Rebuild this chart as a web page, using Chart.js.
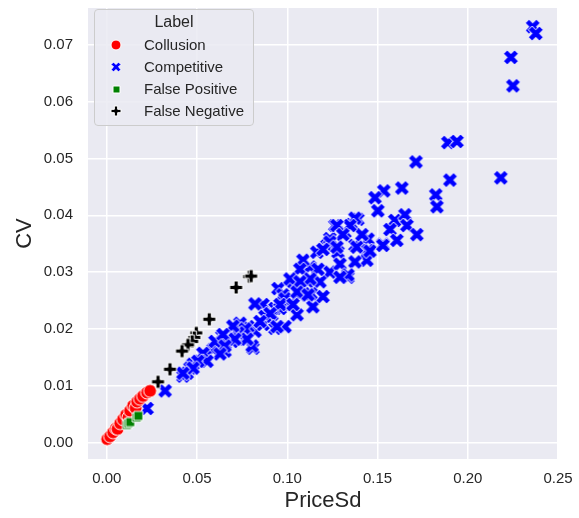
<!DOCTYPE html>
<html>
<head>
<meta charset="utf-8">
<script src="https://cdn.jsdelivr.net/npm/chart.js@4.4.0/dist/chart.umd.min.js"></script>
<style>
  body { margin: 0; background: #fff; }
  #wrap { position: relative; width: 579px; height: 518px; }
  #legend {
    position: absolute; left: 94px; top: 9px; width: 158px; height: 115px;
    background: rgba(234,234,242,0.85); border: 1px solid #cccccc; border-radius: 4px;
    font-family: "Liberation Sans", Arial, sans-serif; color: #262626;
  }
  #legend .title { position: absolute; left: 0; width: 100%; top: 2px; text-align: center; font-size: 16px; line-height: 20px; }
  #legend .row { position: absolute; left: 0; height: 20px; font-size: 15px; line-height: 20px; }
  #legend .row canvas { position: absolute; left: 14px; top: 1px; }
  #legend .row span { position: absolute; left: 49px; white-space: nowrap; }
</style>
</head>
<body>
<div id="wrap">
  <canvas id="chart" width="579" height="518"></canvas>
  <div id="legend"></div>
</div>
<script>
// series names
const labels = ['Collusion', 'Competitive', 'False Positive', 'False Negative'];

const collusionPriceSd = [0.0002, 0.0018, 0.0035, 0.0051, 0.0060, 0.0074, 0.0090, 0.0107, 0.0120, 0.0129, 0.0146, 0.0160, 0.0168, 0.0184, 0.0201, 0.0223, 0.0240];
const collusionCV      = [0.0006, 0.0011, 0.0018, 0.0025, 0.0024, 0.0034, 0.0041, 0.0049, 0.0044, 0.0056, 0.0065, 0.0061, 0.0072, 0.0077, 0.0082, 0.0088, 0.0091];

const competitivePriceSd = [0.2360, 0.2377, 0.2239, 0.2250, 0.2183, 0.1890, 0.1940, 0.1901, 0.1823, 0.1829, 0.1713, 0.1635, 0.1535, 0.1486, 0.1502,
  0.1391, 0.1358, 0.1596, 0.1652, 0.1663, 0.1569, 0.1718, 0.1607, 0.1447, 0.1375, 0.1530, 0.1264, 0.1319, 0.1220, 0.1281,
  0.1386, 0.1447, 0.1441, 0.1375, 0.1126, 0.1236, 0.1336, 0.1087, 0.1032, 0.1115, 0.1181, 0.0949, 0.1070, 0.1142, 0.1015,
  0.0932, 0.1054, 0.1198, 0.0865, 0.0821, 0.0960, 0.0915, 0.0987, 0.0932, 0.0821, 0.0865, 0.0721, 0.0766, 0.0810, 0.0694,
  0.0638, 0.0589, 0.0655, 0.0517, 0.0478, 0.0422, 0.0461, 0.0445, 0.0323, 0.0223, 0.1414, 0.1292, 0.0976, 0.1131, 0.0877,
  0.0782, 0.0738, 0.0600, 0.0544, 0.1236, 0.1164, 0.1070, 0.0987,
  0.1015, 0.0960, 0.0905, 0.0849, 0.0943, 0.1032, 0.0766, 0.0727, 0.0699, 0.0805, 0.0777, 0.0710, 0.0644, 0.0655, 0.0627,
  0.0533, 0.0555, 0.0505, 0.0478, 0.0422, 0.1375, 0.1347, 0.1275, 0.1308, 0.1236, 0.1275, 0.1198, 0.1458, 0.1530, 0.1336,
  0.1292, 0.1170, 0.1126, 0.1070, 0.1054, 0.1115];
const competitiveCV = [0.0732, 0.0720, 0.0678, 0.0628, 0.0466, 0.0528, 0.0530, 0.0462, 0.0436, 0.0415, 0.0494, 0.0448, 0.0443, 0.0431, 0.0408,
  0.0393, 0.0384, 0.0391, 0.0401, 0.0382, 0.0375, 0.0366, 0.0356, 0.0358, 0.0347, 0.0349, 0.0382, 0.0370, 0.0347, 0.0335,
  0.0344, 0.0338, 0.0321, 0.0318, 0.0309, 0.0300, 0.0291, 0.0321, 0.0283, 0.0283, 0.0283, 0.0271, 0.0260, 0.0239, 0.0243,
  0.0236, 0.0225, 0.0257, 0.0243, 0.0244, 0.0236, 0.0225, 0.0204, 0.0201, 0.0196, 0.0208, 0.0196, 0.0182, 0.0166, 0.0178,
  0.0187, 0.0164, 0.0161, 0.0143, 0.0138, 0.0117, 0.0131, 0.0122, 0.0091, 0.0060, 0.0366, 0.0314, 0.0260, 0.0262, 0.0222,
  0.0204, 0.0210, 0.0178, 0.0152, 0.0359, 0.0335, 0.0305, 0.0253,
  0.0288, 0.0243, 0.0227, 0.0213, 0.0204, 0.0243, 0.0200, 0.0193, 0.0205, 0.0170, 0.0182, 0.0182, 0.0190, 0.0170, 0.0156,
  0.0157, 0.0143, 0.0143, 0.0131, 0.0122, 0.0395, 0.0382, 0.0382, 0.0366, 0.0353, 0.0344, 0.0340, 0.0337, 0.0347, 0.0295,
  0.0291, 0.0305, 0.0288, 0.0283, 0.0265, 0.0260];

const falsePosPriceSd = [0.0112, 0.0120, 0.0130, 0.0166, 0.0175];
const falsePosCV      = [0.0031, 0.0034, 0.0036, 0.0044, 0.0047];

const falseNegPriceSd = [0.0789, 0.0800, 0.0717, 0.0568, 0.0496, 0.0485, 0.0473, 0.0450, 0.0417, 0.0350, 0.0284];
const falseNegCV      = [0.0292, 0.0293, 0.0273, 0.0217, 0.0193, 0.0185, 0.0178, 0.0172, 0.0161, 0.0129, 0.0107];

const xTicks = [0, 0.05, 0.10, 0.15, 0.20, 0.25];
const yTicks = [0, 0.01, 0.02, 0.03, 0.04, 0.05, 0.06, 0.07];

function toPoints(xs, ys) {
    return xs.map((x, i) => ({ x: x, y: ys[i] }));
}

// seaborn-like filled markers with white edge
function makeMarker(kind, color, size) {
    const c = document.createElement('canvas');
    c.width = c.height = Math.ceil(size + 4);
    const g = c.getContext('2d');
    const m = c.width / 2, h = size / 2;
    g.fillStyle = color;
    g.strokeStyle = '#fff';
    g.lineWidth = 1;
    g.beginPath();
    if (kind === 'circle') {
        g.arc(m, m, h, 0, Math.PI * 2);
    } else if (kind === 'square') {
        g.rect(m - h, m - h, size, size);
    } else {
        const w = 1 / 3;
        const pts = [[-w,-1],[w,-1],[w,-w],[1,-w],[1,w],[w,w],[w,1],[-w,1],[-w,w],[-1,w],[-1,-w],[-w,-w]];
        const ang = kind === 'x' ? Math.PI / 4 : 0;
        const r = kind === 'x' ? h / 0.943 : h;
        pts.forEach((p, i) => {
            const px = m + r * (p[0] * Math.cos(ang) - p[1] * Math.sin(ang));
            const py = m + r * (p[0] * Math.sin(ang) + p[1] * Math.cos(ang));
            if (i === 0) g.moveTo(px, py); else g.lineTo(px, py);
        });
        g.closePath();
    }
    g.fill();
    g.stroke();
    return c;
}

const styles = [
    { kind: 'circle', color: '#ff0000', size: 13, legendSize: 10 },
    { kind: 'x', color: '#0000ff', size: 15, legendSize: 10 },
    { kind: 'square', color: '#008000', size: 9, legendSize: 7 },
    { kind: 'plus', color: '#000000', size: 13, legendSize: 10 }
];

const seriesData = [
    toPoints(collusionPriceSd, collusionCV),
    toPoints(competitivePriceSd, competitiveCV),
    toPoints(falsePosPriceSd, falsePosCV),
    toPoints(falseNegPriceSd, falseNegCV)
];
const drawOrder = [3, 4, 1, 2];

const datasets = labels.map((name, i) => ({
    label: name,
    data: seriesData[i],
    pointStyle: makeMarker(styles[i].kind, styles[i].color, styles[i].size),
    pointRadius: 7,
    backgroundColor: styles[i].color,
    order: drawOrder[i]
}));

const plotBg = {
    id: 'plotBg',
    beforeDraw(chart) {
        const a = chart.chartArea;
        const ctx = chart.ctx;
        ctx.save();
        ctx.fillStyle = '#eaeaf2';
        ctx.fillRect(a.left, a.top, a.right - a.left, a.bottom - a.top);
        ctx.restore();
    }
};

const tickFont = { family: '"Liberation Sans", Arial, sans-serif', size: 15 };
const titleFont = { family: '"Liberation Sans", Arial, sans-serif', size: 22 };

new Chart(document.getElementById('chart'), {
    type: 'scatter',
    data: { datasets: datasets },
    plugins: [plotBg],
    options: {
        responsive: false,
        animation: false,
        layout: { padding: { top: 3, right: 21, left: 0, bottom: 0 } },
        plugins: { legend: { display: false }, tooltip: { enabled: false } },
        scales: {
            x: {
                type: 'linear',
                min: -0.0104,
                max: 0.25,
                afterBuildTicks: s => { s.ticks = xTicks.map(v => ({ value: v })); },
                afterFit: s => { s.height = 59; s.paddingLeft = 0; s.paddingRight = 0; },
                grid: { color: '#ffffff', lineWidth: 1.5, drawTicks: false },
                border: { display: false },
                ticks: { color: '#262626', font: tickFont, padding: 11, maxRotation: 0,
                         callback: v => v.toFixed(2) },
                title: { display: true, text: 'PriceSd', color: '#262626', font: titleFont, padding: { top: 0 } }
            },
            y: {
                type: 'linear',
                min: -0.0029,
                max: 0.0765,
                afterBuildTicks: s => { s.ticks = yTicks.map(v => ({ value: v })); },
                afterFit: s => { s.width = 88; s.paddingTop = 0; s.paddingBottom = 0; },
                grid: { color: '#ffffff', lineWidth: 1.5, drawTicks: false },
                border: { display: false },
                ticks: { color: '#262626', font: tickFont, padding: 15,
                         callback: v => v.toFixed(2) },
                title: { display: true, text: 'CV', color: '#262626', font: titleFont, padding: { top: 12, bottom: 0 } }
            }
        }
    }
});

// legend as html
const legend = document.getElementById('legend');
const t = document.createElement('div');
t.className = 'title';
t.textContent = 'Label';
legend.appendChild(t);
const rowTops = [25, 47, 69, 91];
labels.forEach((name, i) => {
    const row = document.createElement('div');
    row.className = 'row';
    row.style.top = rowTops[i] + 'px';
    const mk = makeMarker(styles[i].kind, styles[i].color, styles[i].legendSize);
    mk.style.left = (21 - mk.width / 2) + 'px';
    mk.style.top = (10 - mk.height / 2) + 'px';
    row.appendChild(mk);
    const sp = document.createElement('span');
    sp.textContent = name;
    row.appendChild(sp);
    legend.appendChild(row);
});
</script>
</body>
</html>
